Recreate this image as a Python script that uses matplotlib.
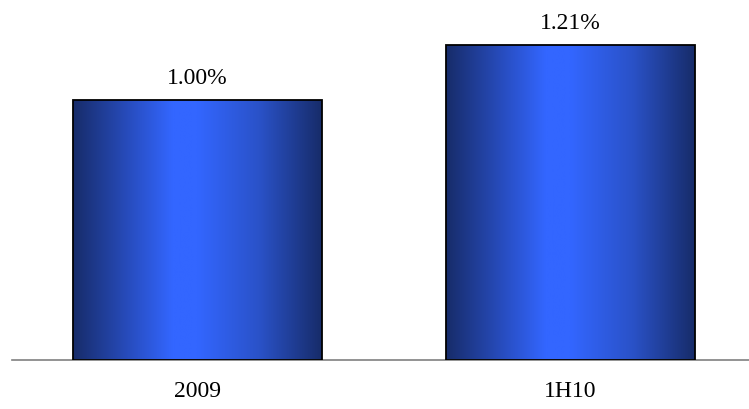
import numpy as np
import matplotlib.pyplot as plt
from matplotlib.colors import LinearSegmentedColormap

# data
categories = ["2009", "1H10"]
values = [1.00, 1.21]
labels = ["1.00%", "1.21%"]

plt.rcParams['font.family'] = ['Liberation Serif', 'DejaVu Serif']

fig = plt.figure(figsize=(7.49, 4.09), dpi=100)
ax = fig.add_axes([12 / 749, 49 / 409, 737 / 749, 360 / 409])

# dark edges, bright blue middle
cmap = LinearSegmentedColormap.from_list(
    "barblue", [(0.0, "#172c6a"), (0.2, "#2649b5"), (0.4, "#3366ff"),
                (0.5, "#3366ff"), (0.75, "#2a52c8"), (1.0, "#172c6a")])
grad = np.linspace(0, 1, 256).reshape(1, -1)

width = 0.668
x = np.arange(len(categories))
bars = ax.bar(x, values, width=width, color="none", edgecolor="black",
              linewidth=1.3, zorder=3)
for bar in bars:
    x0, w, h = bar.get_x(), bar.get_width(), bar.get_height()
    im = ax.imshow(grad, cmap=cmap, aspect="auto",
                   extent=(x0, x0 + w, 0, h), zorder=2)
    im.set_clip_path(bar)

for xi, v, lab in zip(x, values, labels):
    ax.annotate(lab, (xi, v), xytext=(0, 8), textcoords="offset points",
                ha="center", va="bottom", fontsize=17)

ax.set_xlim(-0.498, 1.48)
ax.set_ylim(0, 1.385)
ax.set_xticks(x)
ax.set_xticklabels(categories, fontsize=17)
ax.tick_params(axis="x", length=0, pad=15)
ax.set_yticks([])
for side in ["top", "right", "left"]:
    ax.spines[side].set_visible(False)
ax.spines["bottom"].set_color("#808080")
ax.spines["bottom"].set_linewidth(1.2)

fig.savefig("out.png", dpi=100)
